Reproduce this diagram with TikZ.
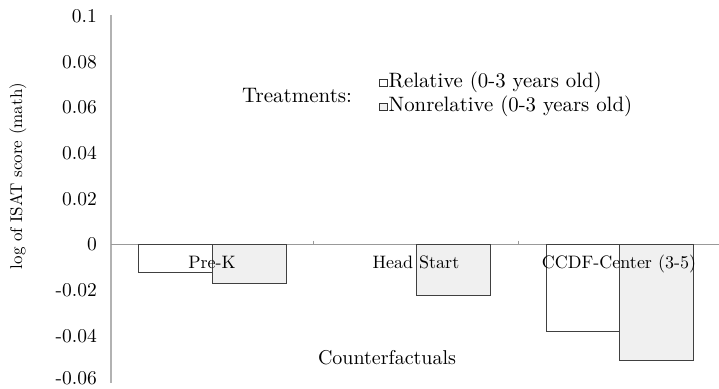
\documentclass[tikz,border=0pt]{standalone}
\usepackage{fontspec}
\setmainfont{lmroman10-regular}[Extension=.otf]
\begin{document}
\begin{tikzpicture}[x=1pt,y=-1pt,
  bar/.style={draw=black!75,line width=0.9pt},
  relbar/.style={bar,fill=white},
  nonbar/.style={bar,fill=black!6},
  ticklab/.style={anchor=east,inner sep=0pt,font=\fontsize{19.5}{22}\selectfont},
  catlab/.style={anchor=base,inner sep=0pt,font=\fontsize{18}{21}\selectfont},
  legtext/.style={anchor=base west,inner sep=0pt,font=\fontsize{20.5}{24}\selectfont},
  legbox/.style={draw=black!80,line width=0.9pt,minimum size=7.5pt,inner sep=0pt}]
\useasboundingbox (0,0) rectangle (719,388);
% axes
\draw[black!30,line width=1.3pt] (111,15) -- (111,383);
\draw[black!40,line width=0.9pt] (111,244) -- (719,244);
\foreach \x in {313,518} \draw[black!40,line width=0.8pt] (\x,240.5) -- (\x,244);
% tick labels
\foreach \v/\y in {0.1/15,0.08/60.6,0.06/106.2,0.04/151.8,0.02/197.4,0/243,-0.02/288.6,-0.04/334.2}
  \node[ticklab] at (97,\y+1.5) {\v};
\node[ticklab] at (97,378.5) {-0.06};
% bars
\draw[relbar] (138,244) rectangle (212,272);
\draw[nonbar] (212,244) rectangle (286,283);
\draw[nonbar] (416,244) rectangle (490,295);
\draw[relbar] (546,244) rectangle (619,331);
\draw[nonbar] (619,244) rectangle (693,360);
% category labels
\node[catlab] (prek) at (212,268) {Pre-K};
\node[catlab] (hs) at (416,268) {Head Start};
\node[catlab] (ccdf) at (619,268) {CCDF-Center (3-5)};
\node[anchor=base,inner sep=0pt,font=\fontsize{20}{24}\selectfont] (cf) at (387,364) {Counterfactuals};
% y label
\node[rotate=90,anchor=base,inner sep=0pt,font=\fontsize{17}{20}\selectfont] (ylab) at (22,176) {log of ISAT score (math)};
% legend
\node[legtext,font=\fontsize{21}{24}\selectfont] (treat) at (242,102) {Treatments:};
\node[legbox,fill=white] (b1) at (383.5,83) {};
\node[legbox,fill=black!6] (b2) at (383.5,107) {};
\node[legtext,font=\fontsize{20.8}{24}\selectfont] (l1) at (388.5,87) {Relative (0-3 years old)};
\node[legtext,font=\fontsize{20.8}{24}\selectfont] (l2) at (388.5,111) {Nonrelative (0-3 years old)};
\end{tikzpicture}
\end{document}
